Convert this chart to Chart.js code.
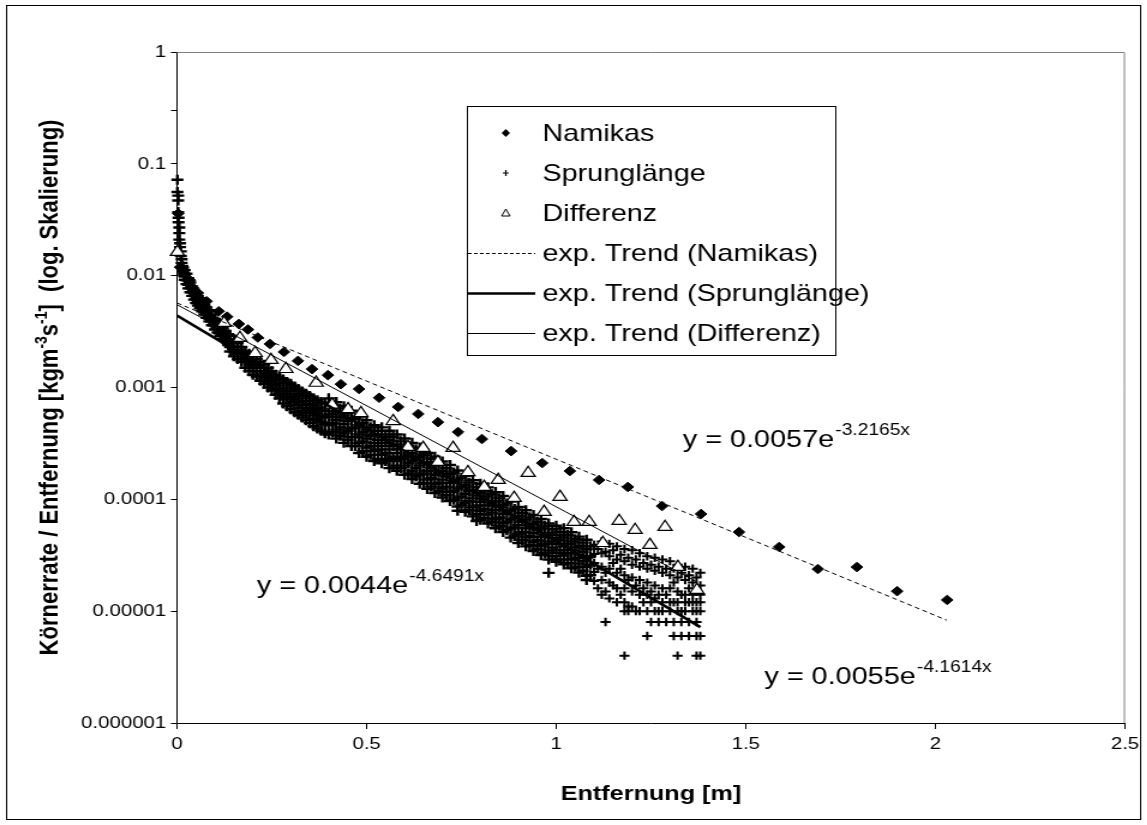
<!DOCTYPE html>
<html>
<head>
<meta charset="utf-8">
<script src="https://cdn.jsdelivr.net/npm/chart.js@4.4.0/dist/chart.umd.min.js"></script>
<style>
  html, body { margin: 0; padding: 0; background: #fff; overflow: hidden; }
  /* the reference picture is stretched sideways, so the chart is drawn narrow and widened */
  #wrap { width: 956px; height: 825px; transform: scaleX(1.2); transform-origin: 0 0; }
</style>
</head>
<body>
<div id="wrap"><canvas id="chart"></canvas></div>
<script>
const FONT = '"Liberation Sans", Arial, sans-serif';

// Namikas: [x, y]
const namikasPoints = [
  [0.003,0.036],[0.008,0.0119],[0.034,0.0091],[0.042,0.0078],[0.055,0.007],[0.078,0.0059],
  [0.11,0.0048],[0.132,0.0043],[0.163,0.0037],[0.187,0.0033],[0.213,0.0028],[0.245,0.00245],
  [0.282,0.00208],[0.319,0.00173],[0.356,0.00146],[0.398,0.00129],[0.432,0.00107],[0.48,0.00097],
  [0.533,0.00081],[0.583,0.00067],[0.636,0.00058],[0.688,0.00049],[0.741,0.0004],[0.804,0.000346],
  [0.881,0.00027],[0.963,0.000211],[1.036,0.000179],[1.113,0.000149],[1.189,0.000129],[1.279,0.0000871],
  [1.382,0.000074],[1.482,0.000051],[1.588,0.0000375],[1.69,0.0000238],[1.793,0.0000248],[1.899,0.0000151],
  [2.031,0.0000126]
];

// Differenz: [x, y]
const differenzPoints = [
  [0.001,0.0163],[0.124,0.00377],[0.166,0.00277],[0.206,0.00203],[0.248,0.00176],[0.287,0.00146],
  [0.367,0.0011],[0.409,0.0007],[0.451,0.00064],[0.485,0.00059],[0.57,0.0005],[0.609,0.000294],
  [0.649,0.000288],[0.688,0.000216],[0.728,0.000288],[0.767,0.000175],[0.81,0.000129],[0.847,0.000149],
  [0.889,0.000103],[0.926,0.000172],[0.968,0.0000771],[1.01,0.000105],[1.047,0.0000627],[1.087,0.0000627],
  [1.123,0.0000406],[1.166,0.000064],[1.208,0.0000532],[1.247,0.0000391],[1.287,0.0000565],[1.321,0.0000248],
  [1.371,0.0000155]
];

// Sprunglänge: [x, [y values at that x]]
const sprungColumns = [
  [0.001,[0.072,0.056]],[0.003,[0.052,0.047,0.037]],[0.004,[0.033,0.03]],[0.006,[0.027,0.024,0.021]],
  [0.008,[0.0195,0.018]],[0.010,[0.0165,0.015]],[0.012,[0.014,0.013]],[0.014,[0.0122,0.0115]],
  [0.016,[0.0118,0.011]],[0.018,[0.0106,0.0101]],[0.020,[0.0112,0.0098,0.0092]],[0.025,[0.0104,0.0091,0.0084]],
  [0.030,[0.0095,0.0083,0.0077]],[0.035,[0.0087,0.0077,0.0071]],[0.040,[0.008,0.0071,0.0066]],
  [0.045,[0.0075,0.0066,0.0061]],[0.050,[0.007,0.0062,0.0057]],[0.055,[0.0066,0.0059,0.0054]],
  [0.060,[0.0063,0.0056,0.0051]],[0.066,[0.0059,0.0052,0.0048]],[0.072,[0.0055,0.0049,0.0045]],
  [0.078,[0.0052,0.0046,0.0042]],[0.085,[0.0049,0.0043,0.0039]],[0.092,[0.0045,0.004,0.0036]],
  [0.100,[0.0041,0.0036,0.0033]],[0.107,[0.0039,0.0034,0.0031]],[0.114,[0.0037,0.0032,0.0029]],
  [0.121,[0.0034,0.003,0.0027]],[0.128,[0.0032,0.0028,0.0026]],[0.135,[0.003,0.0026,0.0024]],
  [0.14,[0.0029,0.0027,0.0025,0.0023,0.0021]],[0.15,[0.0027,0.0025,0.0023,0.0021,0.0019]],
  [0.16,[0.0025,0.0023,0.00215,0.002,0.0018]],[0.17,[0.0023,0.0021,0.002,0.0018,0.0017]],
  [0.18,[0.0021,0.002,0.00185,0.0017,0.0015]],[0.19,[0.002,0.0018,0.0017,0.0016,0.0014]],
  [0.20,[0.0019,0.0017,0.0016,0.0015,0.0013]],[0.21,[0.0018,0.0016,0.0015,0.0014,0.00125]],
  [0.22,[0.0017,0.0015,0.0014,0.0013,0.00115]],[0.23,[0.0016,0.0014,0.0013,0.0012,0.00108]],
  [0.24,[0.0015,0.00135,0.00124,0.00113,0.001]],[0.25,[0.0014,0.00128,0.00115,0.00105,0.00094]],
  [0.26,[0.0013,0.00118,0.00106,0.00096,0.00086]],[0.27,[0.00122,0.0011,0.00098,0.00088,0.0008]],
  [0.28,[0.00118,0.00104,0.00092,0.00083,0.00072]],[0.29,[0.00112,0.00098,0.00087,0.00078,0.00068]],
  [0.30,[0.00108,0.00093,0.00082,0.00074,0.00064]],[0.31,[0.00102,0.00088,0.00078,0.0007,0.0006]],
  [0.32,[0.00097,0.00084,0.00074,0.00066,0.00057]],[0.33,[0.00092,0.0008,0.0007,0.00062,0.00054]],
  [0.34,[0.00088,0.00076,0.00066,0.00059,0.00051]],[0.35,[0.00084,0.00072,0.00063,0.00056,0.00048]],
  [0.36,[0.0008,0.00069,0.0006,0.00053,0.00045]],[0.37,[0.00077,0.00066,0.00058,0.00051,0.00043]],
  [0.38,[0.00074,0.00064,0.00056,0.00049,0.00041]],[0.39,[0.00072,0.00062,0.00054,0.00047,0.00039]],
  [0.40,[0.0008,0.00066,0.00055,0.00046,0.00038]],[0.41,[0.0007,0.00058,0.00048,0.0004]],
  [0.42,[0.00074,0.00061,0.00051,0.00042,0.00035]],[0.43,[0.00065,0.00054,0.00044,0.00037]],
  [0.44,[0.00068,0.00056,0.00047,0.00039,0.00032]],[0.45,[0.00059,0.0005,0.00041,0.00034]],
  [0.46,[0.00062,0.00052,0.00043,0.00036,0.0003]],[0.47,[0.00053,0.00044,0.00036,0.0003]],
  [0.48,[0.00055,0.00046,0.00038,0.00032,0.00026]],[0.49,[0.00048,0.0004,0.00033,0.00027]],
  [0.50,[0.00051,0.00042,0.00035,0.00029,0.00024]],[0.51,[0.00044,0.00037,0.0003,0.00025]],
  [0.52,[0.00046,0.00038,0.00032,0.00027,0.00022]],[0.53,[0.00041,0.00034,0.00028,0.00023]],
  [0.54,[0.00044,0.00036,0.0003,0.00025,0.00021]],[0.55,[0.00038,0.00032,0.00026,0.00022]],
  [0.56,[0.00041,0.00034,0.00028,0.00023,0.00019]],[0.57,[0.00036,0.0003,0.00024,0.0002]],
  [0.58,[0.00038,0.00031,0.00026,0.00022,0.00018]],[0.59,[0.00033,0.00028,0.00023,0.00019]],
  [0.60,[0.00035,0.00029,0.00024,0.0002,0.000166]],[0.61,[0.0003,0.00025,0.00021,0.00017]],
  [0.62,[0.00032,0.00026,0.00022,0.00018,0.000152]],[0.63,[0.00028,0.00023,0.00019,0.00016]],
  [0.64,[0.00029,0.00024,0.0002,0.000166,0.000138]],[0.65,[0.00025,0.00021,0.00017,0.00014]],
  [0.66,[0.00026,0.000216,0.00018,0.00015,0.000124]],[0.67,[0.00023,0.00019,0.000155,0.00013]],
  [0.68,[0.00024,0.0002,0.000165,0.000137,0.000114]],[0.69,[0.00021,0.000173,0.000141,0.000118]],
  [0.70,[0.000218,0.00018,0.00015,0.000125,0.000104]],[0.71,[0.00019,0.00016,0.00013,0.000109]],
  [0.72,[0.000203,0.000168,0.00014,0.000116,0.0000966]],[0.73,[0.000174,0.000145,0.000119,0.000099]],
  [0.74,[0.000181,0.00015,0.000125,0.000104,0.0000863,0.000079]],[0.75,[0.000156,0.00013,0.000106,0.000089]],
  [0.76,[0.000162,0.000134,0.000112,0.000093,0.0000773]],[0.77,[0.000141,0.000118,0.000096,0.00008]],
  [0.78,[0.000148,0.000122,0.000102,0.0000847,0.0000704]],[0.79,[0.000129,0.000108,0.000088,0.000074,0.000064]],
  [0.80,[0.000138,0.000114,0.000095,0.0000789,0.0000656]],[0.81,[0.00012,0.0001,0.000082,0.000068]],
  [0.82,[0.000128,0.000106,0.000088,0.000073,0.0000607]],[0.83,[0.000111,0.000092,0.000076,0.000063]],
  [0.84,[0.000116,0.000096,0.00008,0.0000664,0.0000552]],[0.85,[0.000102,0.000085,0.000069,0.000058]],
  [0.86,[0.000107,0.0000888,0.000074,0.0000614,0.0000511]],[0.87,[0.000092,0.000077,0.000063,0.000053]],
  [0.88,[0.0000957,0.0000792,0.000066,0.0000548,0.0000455]],[0.89,[0.000082,0.000068,0.000056,0.000047]],
  [0.90,[0.0000856,0.0000708,0.000059,0.000049,0.0000407]],[0.91,[0.000075,0.000063,0.000051,0.000043]],
  [0.92,[0.0000798,0.000066,0.000055,0.0000457,0.000038]],[0.93,[0.000069,0.000057,0.000047,0.000039]],
  [0.94,[0.0000725,0.00006,0.00005,0.0000415,0.0000345]],[0.95,[0.000063,0.000053,0.000043,0.000036]],
  [0.96,[0.0000667,0.0000552,0.000046,0.0000382,0.0000317]],[0.97,[0.000058,0.000048,0.00004,0.000033]],
  [0.98,[0.0000609,0.0000504,0.000042,0.0000349,0.000029,0.000022]],[0.99,[0.000054,0.000045,0.000037,0.000031]],
  [1.00,[0.000058,0.000048,0.00004,0.0000332,0.0000276]],[1.01,[0.000051,0.000043,0.000035,0.000029]],
  [1.02,[0.0000551,0.0000456,0.000038,0.0000315,0.0000262]],[1.03,[0.000048,0.00004,0.000033,0.000027]],
  [1.04,[0.0000508,0.000042,0.000035,0.000029,0.0000242]],[1.05,[0.000044,0.000037,0.00003,0.000025]],
  [1.06,[0.0000464,0.0000384,0.000032,0.0000266,0.0000221]],[1.07,[0.000041,0.000034,0.000028,0.000023]],
  [1.08,[0.0000435,0.000036,0.00003,0.0000249,0.0000207,0.000019]],[1.09,[0.000038,0.000031,0.000026,0.000021]],
  [1.10,[0.0000392,0.0000324,0.000027,0.0000224,0.0000186]],[1.11,[0.000036,0.000024,0.000016]],
  [1.12,[0.000042,0.000033,0.000025,0.000019,0.000014]],[1.13,[0.000034,0.000022,0.000015,0.000008]],
  [1.14,[0.00004,0.000031,0.000024,0.000018,0.000013]],[1.15,[0.000035,0.000027,0.000017]],
  [1.16,[0.000038,0.000029,0.000022,0.000016,0.000012]],[1.17,[0.000032,0.000024,0.000014]],
  [1.18,[0.000036,0.000028,0.000021,0.000016,0.000012,0.00001,0.000004]],[1.19,[0.00003,0.000019,0.000011,0.00001]],
  [1.20,[0.000035,0.000026,0.00002,0.000015,0.000011]],[1.21,[0.000029,0.000017,0.00001]],
  [1.22,[0.000033,0.000025,0.000019,0.000014,0.00001]],[1.23,[0.000027,0.000016,0.000012]],
  [1.24,[0.000031,0.000024,0.000018,0.000014,0.00001,0.000006]],[1.25,[0.000026,0.000015,0.000012,0.000008]],
  [1.26,[0.00003,0.000023,0.000017,0.000013,0.00001]],[1.27,[0.000025,0.000014,0.00001,0.000008]],
  [1.28,[0.000029,0.000022,0.000016,0.000012,0.00001]],[1.29,[0.000024,0.000014,0.000008]],
  [1.30,[0.000028,0.000021,0.000016,0.000012,0.00001]],[1.31,[0.000024,0.000018,0.000012,0.000008,0.000006]],
  [1.32,[0.000026,0.00002,0.000015,0.000012,0.00001,0.000004]],[1.33,[0.000022,0.000014,0.00001,0.000008,0.000006]],
  [1.34,[0.000025,0.000019,0.000014,0.000012,0.00001]],[1.35,[0.000021,0.000016,0.000012,0.000008,0.000006]],
  [1.36,[0.000024,0.000018,0.000014,0.000012,0.00001]],[1.37,[0.00002,0.000015,0.000012,0.00001,0.000008,0.000006,0.000004]],
  [1.38,[0.000022,0.000017,0.000014,0.000012,0.00001,0.000006,0.000004]]
];

// exponential trend lines, start and end [x, y]
const namikasTrend = [[0, 0.0057], [2.03, 0.0000083]];
const sprungTrend = [[0, 0.0044], [1.38, 0.0000072]];
const differenzTrend = [[0, 0.0055], [1.37, 0.0000184]];

const xTickValues = [0, 0.5, 1, 1.5, 2, 2.5];
const xTickLabels = ['0', '0.5', '1', '1.5', '2', '2.5'];
const yTickValues = [0.000001, 0.00001, 0.0001, 0.001, 0.01, 0.1, 0.3, 1];
const yTickLabels = ['0.000001', '0.00001', '0.0001', '0.001', '0.01', '0.1', '', '1'];

const equations = [
  {text: 'y = 0.0057e', sup: '-3.2165x', x: 569, y: 447},
  {text: 'y = 0.0044e', sup: '-4.6491x', x: 214, y: 593},
  {text: 'y = 0.0055e', sup: '-4.1614x', x: 637, y: 684}
];

const legendItems = [
  {label: 'Namikas', kind: 'diamond'},
  {label: 'Sprunglänge', kind: 'plus'},
  {label: 'Differenz', kind: 'triangle'},
  {label: 'exp. Trend (Namikas)', kind: 'dash'},
  {label: 'exp. Trend (Sprunglänge)', kind: 'thick'},
  {label: 'exp. Trend (Differenz)', kind: 'thin'}
];

const toXY = arr => arr.map(p => ({x: p[0], y: p[1]}));
const sprungPoints = [];
sprungColumns.forEach(c => c[1].forEach(y => sprungPoints.push({x: c[0], y})));

function drawLegend(ctx) {
  const left = 389, top = 106, right = 696, bottom = 355;
  ctx.save();
  ctx.fillStyle = '#fff';
  ctx.fillRect(left, top, right - left, bottom - top);
  ctx.strokeStyle = '#000';
  ctx.lineWidth = 1;
  ctx.strokeRect(left + 0.5, top + 0.5, right - left, bottom - top);
  legendItems.forEach((it, i) => {
    const y = 133 + i * 40;
    const mx = 421.5;
    ctx.strokeStyle = '#000';
    ctx.fillStyle = '#000';
    ctx.setLineDash([]);
    if (it.kind === 'diamond') {
      ctx.beginPath();
      ctx.moveTo(mx, y - 4); ctx.lineTo(mx + 3.5, y); ctx.lineTo(mx, y + 4); ctx.lineTo(mx - 3.5, y);
      ctx.closePath(); ctx.fill();
    } else if (it.kind === 'plus') {
      ctx.lineWidth = 1.2;
      ctx.beginPath();
      ctx.moveTo(mx - 2.5, y); ctx.lineTo(mx + 2.5, y);
      ctx.moveTo(mx, y - 3); ctx.lineTo(mx, y + 3);
      ctx.stroke();
    } else if (it.kind === 'triangle') {
      ctx.lineWidth = 1;
      ctx.beginPath();
      ctx.moveTo(mx, y - 4); ctx.lineTo(mx + 3.5, y + 3); ctx.lineTo(mx - 3.5, y + 3);
      ctx.closePath(); ctx.stroke();
    } else {
      ctx.lineWidth = it.kind === 'thick' ? 2.5 : 1;
      if (it.kind === 'dash') ctx.setLineDash([3, 2]);
      ctx.beginPath();
      ctx.moveTo(390, y + 0.5); ctx.lineTo(446, y + 0.5);
      ctx.stroke();
      ctx.setLineDash([]);
    }
    ctx.fillStyle = '#000';
    ctx.font = '24px ' + FONT;
    ctx.textBaseline = 'middle';
    ctx.textAlign = 'left';
    ctx.fillText(it.label, 452, y + 1);
  });
  ctx.restore();
}

function drawEquations(ctx) {
  ctx.save();
  ctx.fillStyle = '#000';
  ctx.textBaseline = 'alphabetic';
  ctx.textAlign = 'left';
  equations.forEach(e => {
    ctx.font = '24px ' + FONT;
    ctx.fillText(e.text, e.x, e.y);
    const w = ctx.measureText(e.text).width;
    ctx.font = '16px ' + FONT;
    ctx.fillText(e.sup, e.x + w + 1, e.y - 12);
  });
  ctx.restore();
}

function drawYTitle(ctx, area) {
  const parts = [
    ['Körnerrate / Entfernung [kgm', false], ['-3', true], ['s', false], ['-1', true], [']  (log. Skalierung)', false]
  ];
  const big = 'bold 22px ' + FONT, small = 'bold 14px ' + FONT;
  ctx.save();
  ctx.fillStyle = '#000';
  ctx.textBaseline = 'middle';
  ctx.textAlign = 'left';
  let total = 0;
  parts.forEach(p => { ctx.font = p[1] ? small : big; total += ctx.measureText(p[0]).width; });
  ctx.translate(42, (area.top + area.bottom) / 2);
  ctx.rotate(-Math.PI / 2);
  let x = -total / 2;
  parts.forEach(p => {
    ctx.font = p[1] ? small : big;
    ctx.fillText(p[0], x, p[1] ? -7 : 0);
    x += ctx.measureText(p[0]).width;
  });
  ctx.restore();
}

const decor = {
  id: 'decor',
  beforeDraw(chart) {
    const {ctx, width, height} = chart;
    ctx.save();
    ctx.fillStyle = '#fff';
    ctx.fillRect(0, 0, width, height);
    ctx.strokeStyle = '#000';
    ctx.lineWidth = 1;
    ctx.strokeRect(5.5, 5.5, 945, 814);
    ctx.restore();
  },
  beforeDatasetsDraw(chart) {
    const {ctx, chartArea: a} = chart;
    ctx.save();
    ctx.strokeStyle = '#808080';
    ctx.lineWidth = 1;
    ctx.beginPath();
    ctx.moveTo(a.left, a.top + 0.5);
    ctx.lineTo(a.right - 0.5, a.top + 0.5);
    ctx.lineTo(a.right - 0.5, a.bottom);
    ctx.stroke();
    ctx.restore();
  },
  afterDraw(chart) {
    drawYTitle(chart.ctx, chart.chartArea);
    drawEquations(chart.ctx);
    drawLegend(chart.ctx);
  }
};

const tickGrid = {display: true, drawOnChartArea: false, drawTicks: true, color: '#000', lineWidth: 1};

// the dense part of the cloud is drawn with slightly heavier crosses
const denseCloud = c => c.raw && c.raw.x < 1.1;

new Chart(document.getElementById('chart'), {
  type: 'scatter',
  data: {
    datasets: [
      {label: 'exp. Trend (Namikas)', data: toXY(namikasTrend), showLine: true, pointRadius: 0,
        borderColor: '#000', borderWidth: 1, borderDash: [4, 3]},
      {label: 'exp. Trend (Sprunglänge)', data: toXY(sprungTrend), showLine: true, pointRadius: 0,
        borderColor: '#000', borderWidth: 2.5},
      {label: 'exp. Trend (Differenz)', data: toXY(differenzTrend), showLine: true, pointRadius: 0,
        borderColor: '#000', borderWidth: 1},
      {label: 'Differenz', data: toXY(differenzPoints), pointStyle: 'triangle', pointRadius: 6.8,
        borderColor: '#000', backgroundColor: '#fff', borderWidth: 1.2, clip: false},
      {label: 'Namikas', data: toXY(namikasPoints), pointStyle: 'rectRot', pointRadius: 4.8,
        borderColor: '#000', backgroundColor: '#000', borderWidth: 1, clip: false},
      {label: 'Sprunglänge', data: sprungPoints, pointStyle: 'cross',
        pointRadius: c => denseCloud(c) ? 5 : 4.2,
        borderWidth: c => denseCloud(c) ? 2.4 : 2,
        borderColor: '#000', clip: false}
    ]
  },
  options: {
    responsive: true,
    maintainAspectRatio: false,
    animation: false,
    events: [],
    layout: {padding: {left: 7.5, top: 52, right: 18.5, bottom: 18}},
    plugins: {legend: {display: false}, tooltip: {enabled: false}},
    scales: {
      x: {
        type: 'linear', min: 0, max: 2.5,
        afterBuildTicks: s => { s.ticks = xTickValues.map(v => ({value: v})); },
        ticks: {
          color: '#000', font: {family: FONT, size: 17}, padding: 5, maxRotation: 0, autoSkip: false,
          callback: v => { const i = xTickValues.indexOf(v); return i < 0 ? '' : xTickLabels[i]; }
        },
        grid: Object.assign({tickLength: 6}, tickGrid),
        border: {display: true, color: '#000', width: 1},
        title: {display: true, text: 'Entfernung [m]', color: '#000',
          font: {family: FONT, size: 21, weight: 'bold'}, padding: {top: 0, bottom: 0}},
        afterFit: s => { s.height = 84; }
      },
      y: {
        type: 'logarithmic', min: 0.000001, max: 1,
        afterBuildTicks: s => { s.ticks = yTickValues.map(v => ({value: v})); },
        ticks: {
          color: '#000', font: {family: FONT, size: 17}, padding: 4, autoSkip: false,
          callback: v => { const i = yTickValues.indexOf(v); return i < 0 ? '' : yTickLabels[i]; }
        },
        grid: Object.assign({tickLength: 5}, tickGrid),
        border: {display: true, color: '#000', width: 1},
        afterFit: s => { s.width = 140; }
      }
    }
  },
  plugins: [decor]
});
</script>
</body>
</html>
